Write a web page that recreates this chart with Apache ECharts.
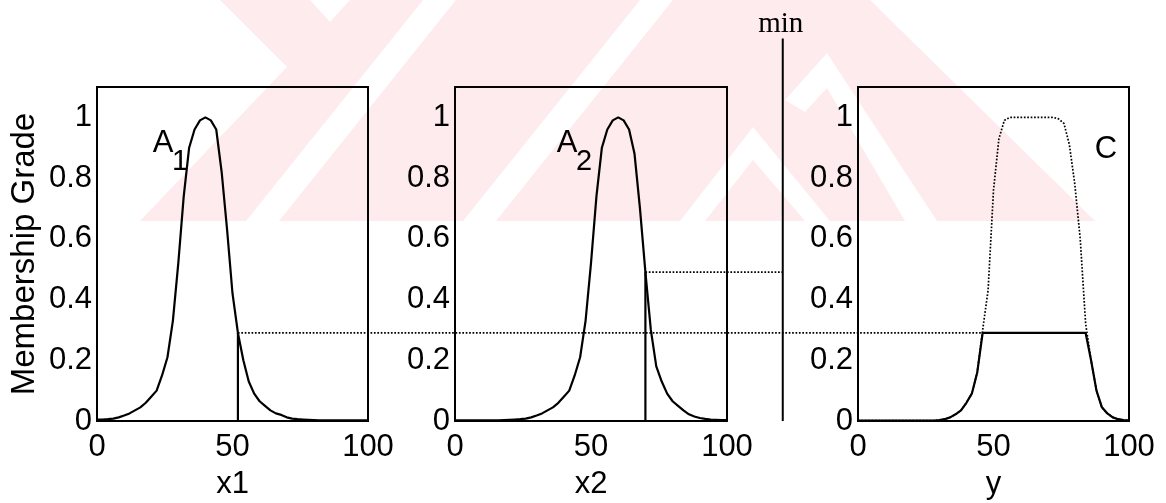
<!DOCTYPE html>
<html><head><meta charset="utf-8">
<script src="https://cdn.jsdelivr.net/npm/echarts@6/dist/echarts.min.js"></script>
<style>html,body{margin:0;padding:0;background:#fff}#c{width:1166px;height:503px}</style>
</head><body><div id="c"></div>
<script>
// ---------- data ----------
const xs = [0,2,4,6,8,10,12,14,16,18,20,22,24,26,28,30,32,34,36,38,40,42,44,46,48,50,52,54,56,58,60,62,64,66,68,70,72,74,76,78,80,82,84,86,88,90,92,94,96,98,100];
const a1 = [0.005,0.005,0.006,0.008,0.012,0.018,0.025,0.035,0.045,0.06,
            0.08,0.1,0.15,0.21,0.33,0.52,0.74,0.9,0.96,0.99,
            1.0,0.99,0.96,0.82,0.63,0.42,0.29,0.2,0.13,0.09,
            0.065,0.05,0.035,0.025,0.02,0.012,0.008,0.006,0.005,0.004,
            0.003,0.002,0.002,0.002,0.002,0.002,0.002,0.002,0.002,0.002,
            0.002];
const a2 = [0.002,0.002,0.002,0.002,0.002,0.002,0.002,0.002,0.002,
            0.003,0.004,0.005,0.006,0.008,0.012,0.018,0.025,0.035,0.045,
            0.06,0.08,0.1,0.15,0.21,0.33,0.52,0.74,0.9,0.96,
            0.99,1.0,0.99,0.96,0.88,0.7,0.49,0.3,0.18,0.13,
            0.09,0.065,0.05,0.035,0.022,0.015,0.01,0.007,0.005,0.004,
            0.003,0.003];
const cFull = [0.001,0.001,0.001,0.001,0.001,0.001,0.001,0.001,0.001,0.001,0.001,0.001,0.001,0.001,0.001,
               0.003,0.006,0.012,0.022,0.035,0.06,0.09,0.16,0.3,0.43,
               0.76,0.93,0.99,1,1,1,1,1,1,1,1,1,0.995,0.98,0.91,0.78,0.6,0.32,
               0.2,0.1,0.045,0.025,0.012,0.006,0.003,0.002];
const cClip = [0.001,0.001,0.001,0.001,0.001,0.001,0.001,0.001,0.001,0.001,0.001,0.001,0.001,0.001,0.001,
               0.003,0.006,0.012,0.022,0.035,0.06,0.09,0.16,0.29,0.29,
               0.29,0.29,0.29,0.29,0.29,0.29,0.29,0.29,0.29,0.29,0.29,0.29,0.29,0.29,0.29,0.29,0.29,0.29,
               0.2,0.1,0.045,0.025,0.012,0.006,0.003,0.002];
const yTicks = [0, 0.2, 0.4, 0.6, 0.8, 1];
const xTicks = [0, 50, 100];
const xNames = ['x1', 'x2', 'y'];
const yName = 'Membership Grade';
const input1 = 52, grade1 = 0.29;   // x1 input and A1 grade
const input2 = 70, grade2 = 0.49;   // x2 input and A2 grade
const firing = 0.29;                // min of the two grades
const cCutX = 46;                   // where clipped C reaches firing level
const minLineX = 120.5, minLineTop = 1.26; // in panel-2 data units
const labels = [
  {grid: 0, main: 'A', sub: '1', pos: [24.4, 0.915]},
  {grid: 1, main: 'A', sub: '2', pos: [41.2, 0.915]},
  {grid: 2, main: 'C', sub: '',  pos: [91.5, 0.895]}
];

// ---------- chart ----------
const FONT = 'Liberation Sans, Arial, sans-serif';
const gridLefts = [97, 455, 858];
const gridWidths = [271, 272, 271];
const toXY = a => xs.map((x, i) => [x, a[i]]);

function yFmt(v) {
  const r = Math.round(v * 10) / 10;
  return (Math.abs(v - r) < 1e-6 && yTicks.indexOf(r) >= 0) ? String(r) : '';
}

const grid = gridLefts.map((l, i) => ({
  left: l, top: 87, width: gridWidths[i], height: 334, outerBoundsMode: 'none', containLabel: false,
  show: true, borderColor: '#000', borderWidth: 2, backgroundColor: 'transparent', z: 1
}));
const xAxis = gridLefts.map((l, i) => ({
  gridIndex: i, type: 'value', min: 0, max: 100, interval: 50,
  name: xNames[i], nameLocation: 'middle', nameGap: 48,
  nameTextStyle: {fontFamily: FONT, fontSize: 31, color: '#000'},
  axisLine: {show: false}, axisTick: {show: false}, splitLine: {show: false},
  axisLabel: {fontFamily: FONT, fontSize: 31, color: '#000', margin: 11,
              formatter: v => xTicks.indexOf(v) >= 0 ? String(v) : ''}
}));
const yAxis = gridLefts.map((l, i) => ({
  gridIndex: i, type: 'value', min: 0, max: 1.1, interval: 0.2,
  name: i === 0 ? yName : '', nameLocation: 'middle', nameGap: 56,
  nameTextStyle: {fontFamily: FONT, fontSize: 33, color: '#000'},
  axisLine: {show: false}, axisTick: {show: false}, splitLine: {show: false},
  axisLabel: {fontFamily: FONT, fontSize: 31, color: '#000', margin: 5, formatter: yFmt}
}));

const solid = {color: '#000', width: 2.2};
const dotted = {color: '#000', width: 1.7, type: [1.7, 1.7]};
const base = {type: 'line', showSymbol: false, symbol: 'none', animation: false, silent: true, z: 3};
const series = [
  Object.assign({}, base, {xAxisIndex: 0, yAxisIndex: 0, data: toXY(a1), lineStyle: solid}),
  Object.assign({}, base, {xAxisIndex: 0, yAxisIndex: 0, data: [[input1, 0], [input1, grade1]], lineStyle: solid}),
  Object.assign({}, base, {xAxisIndex: 1, yAxisIndex: 1, data: toXY(a2), lineStyle: solid}),
  Object.assign({}, base, {xAxisIndex: 1, yAxisIndex: 1, data: [[input2, 0], [input2, grade2]], lineStyle: solid}),
  Object.assign({}, base, {xAxisIndex: 2, yAxisIndex: 2, data: toXY(cFull), lineStyle: dotted}),
  Object.assign({}, base, {xAxisIndex: 2, yAxisIndex: 2, data: toXY(cClip), lineStyle: solid, z: 4})
];

const chart = echarts.init(document.getElementById('c'), null, {renderer: 'canvas'});
chart.setOption({animation: false, backgroundColor: '#fff', grid, xAxis, yAxis, series});

// overlay elements positioned through the axes
const P = (g, pt) => chart.convertToPixel({gridIndex: g}, pt);
const pink = '#fdebee';
const wm = [
  {type: 'polygon', z: -5, shape: {points: [[220,0],[870,0],[1095,221],[140,221],[287,67]]}, style: {fill: pink}},
  {type: 'polygon', z: -4, shape: {points: [[310,0],[330,22],[350,0]]}, style: {fill: '#fff'}},
  {type: 'polygon', z: -4, shape: {points: [[423,0],[456,0],[279,221],[246,221]]}, style: {fill: '#fff'}},
  {type: 'polygon', z: -4, shape: {points: [[640,0],[673,0],[496,221],[463,221]]}, style: {fill: '#fff'}},
  {type: 'polygon', z: -4, shape: {points: [[680,221],[753,127],[830,221],[805,221],[753,160],[705,221]]}, style: {fill: '#fff'}},
  {type: 'polygon', z: -4, shape: {points: [[785,100],[827,53],[937,221],[905,221],[827,88],[805,112]]}, style: {fill: '#fff'}}
];
const g = [];
const dash = {stroke: '#000', lineWidth: 1.7, lineDash: [1.7, 1.7]};
const d1a = P(0, [input1, firing]), d1b = P(2, [cCutX, firing]);
g.push({type: 'line', z: 5, shape: {x1: d1a[0], y1: d1a[1], x2: d1b[0], y2: d1b[1]}, style: dash});
const d2a = P(1, [input2, grade2]), d2b = P(1, [minLineX, grade2]);
g.push({type: 'line', z: 5, shape: {x1: d2a[0], y1: d2a[1], x2: d2b[0], y2: d2b[1]}, style: dash});
const mT = P(1, [minLineX, minLineTop]), mB = P(1, [minLineX, 0]);
g.push({type: 'line', z: 5, shape: {x1: mT[0], y1: mT[1], x2: mB[0], y2: mB[1]}, style: {stroke: '#000', lineWidth: 2}});
g.push({type: 'text', z: 5, x: mT[0] - 2, y: mT[1] - 14, style: {text: 'min', font: '29px "Liberation Serif", "Times New Roman", serif', fill: '#000', align: 'center', verticalAlign: 'middle'}});
labels.forEach(l => {
  const p = P(l.grid, l.pos);
  g.push({type: 'text', z: 5, x: p[0], y: p[1], style: {text: l.main, font: '31px ' + FONT, fill: '#000', align: 'center', verticalAlign: 'middle'}});
  if (l.sub) g.push({type: 'text', z: 5, x: p[0] + 17, y: p[1] + 19, style: {text: l.sub, font: '29px ' + FONT, fill: '#000', align: 'center', verticalAlign: 'middle'}});
});
chart.setOption({graphic: {elements: wm.concat(g)}});
</script></body></html>
